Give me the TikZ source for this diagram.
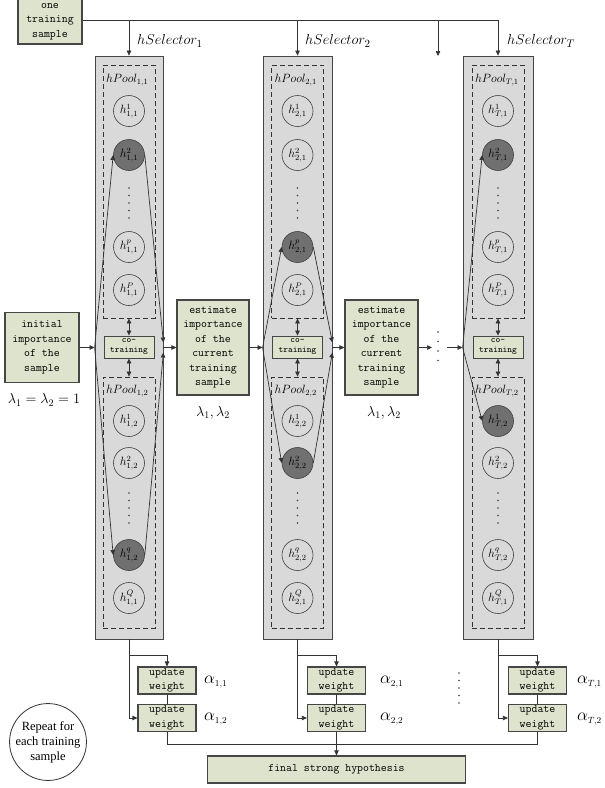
\documentclass[tikz,border=0pt]{standalone}
\usepackage{fontspec}
\newfontfamily\repfont{Liberation Serif}
\usetikzlibrary{arrows.meta}

\definecolor{boxfill}{RGB}{221,227,204}
\definecolor{colfill}{RGB}{217,217,217}
\definecolor{darkfill}{RGB}{112,112,112}
\definecolor{edge}{RGB}{70,70,70}

\tikzset{
  greenbox/.style={draw=edge, line width=1.2pt, fill=boxfill, align=center, inner sep=0pt,
    font=\ttfamily\fontsize{11.5}{14.5}\selectfont},
  colbox/.style={draw=edge, line width=0.8pt, fill=colfill, inner sep=0pt, minimum height=583pt},
  poolbox/.style={draw=black!80, dash pattern=on 5pt off 3pt, line width=0.8pt, inner sep=0pt,
    minimum width=52pt},
  hyp/.style={circle, draw=black!75, line width=0.6pt, minimum size=31pt, inner sep=0pt,
    font=\fontsize{12}{12}\selectfont},
  chosen/.style={hyp, fill=darkfill},
  conn/.style={draw=black!80, line width=0.7pt},
  arr/.style={conn, -{Triangle[length=5pt,width=4.5pt]}},
  darr/.style={conn, {Triangle[length=5pt,width=4.5pt]}-{Triangle[length=5pt,width=4.5pt]}},
  sel/.style={anchor=west, inner sep=0pt, font=\fontsize{15}{15}\selectfont},
  poollab/.style={anchor=west, inner sep=0pt, font=\fontsize{12}{12}\selectfont},
  cobox/.style={greenbox, line width=0.9pt, minimum width=50pt, minimum height=22pt,
    font=\ttfamily\fontsize{9}{10}\selectfont},
  upd/.style={greenbox, minimum width=58pt, minimum height=27pt},
  lam/.style={inner sep=0pt, font=\fontsize{14}{14}\selectfont},
  alab/.style={anchor=west, inner sep=0pt, font=\fontsize{19}{19}\selectfont},
}

\begin{document}
\begin{tikzpicture}[x=1pt, y=-1pt]
\useasboundingbox (0,0) rectangle (605,788);

% input sample and the selector feed line
\node[greenbox, minimum width=64pt, minimum height=48pt] (one) at (50,20) {};
\node[inner sep=0pt, align=center, font=\ttfamily\fontsize{11.5}{14.5}\selectfont]
  (onetxt) at (50,21.5) {one\\training\\sample};

% the three selector columns
\node[colbox, minimum width=68pt] (col1) at (129,347.5) {};
\node[colbox, minimum width=69pt] (col2) at (297.5,347.5) {};
\node[colbox, minimum width=70pt] (colT) at (498,347.5) {};

% feature pools (dashed)
\node[poolbox, minimum height=253pt] (pa1) at (129,191.5) {};
\node[poolbox, minimum height=251pt] (pb1) at (129,502.5) {};
\node[poolbox, minimum height=253pt] (pa2) at (297.5,191.5) {};
\node[poolbox, minimum height=251pt] (pb2) at (297.5,502.5) {};
\node[poolbox, minimum height=253pt] (paT) at (498,191.5) {};
\node[poolbox, minimum height=251pt] (pbT) at (498,502.5) {};

\node[poollab] (la1) at (106,80) {$hPool_{1,1}$};
\node[poollab] (lb1) at (106,391) {$hPool_{1,2}$};
\node[poollab] (la2) at (274.5,80) {$hPool_{2,1}$};
\node[poollab] (lb2) at (274.5,391) {$hPool_{2,2}$};
\node[poollab] (laT) at (475,80) {$hPool_{T,1}$};
\node[poollab] (lbT) at (475,391) {$hPool_{T,2}$};

% co-training boxes
\node[cobox] (co1) at (129,347) {co-\\training};
\node[cobox] (co2) at (297.5,347) {co-\\training};
\node[cobox] (coT) at (498,347) {co-\\training};

% weak hypotheses, column 1
\node[hyp]    (h1a1) at (129,111) {$h^{1}_{1,1}$};
\node[chosen] (h2a1) at (129,155) {$h^{2}_{1,1}$};
\node[hyp]    (hpa1) at (129,247) {$h^{p}_{1,1}$};
\node[hyp]    (hPa1) at (129,290) {$h^{P}_{1,1}$};
\node[hyp]    (h1b1) at (129,421) {$h^{1}_{1,2}$};
\node[hyp]    (h2b1) at (129,463) {$h^{2}_{1,2}$};
\node[chosen] (hqb1) at (129,555) {$h^{q}_{1,2}$};
\node[hyp]    (hQb1) at (129,598) {$h^{Q}_{1,1}$};

% weak hypotheses, column 2
\node[hyp]    (h1a2) at (297.5,111) {$h^{1}_{2,1}$};
\node[hyp]    (h2a2) at (297.5,155) {$h^{2}_{2,1}$};
\node[chosen] (hpa2) at (297.5,247) {$h^{p}_{2,1}$};
\node[hyp]    (hPa2) at (297.5,290) {$h^{P}_{2,1}$};
\node[hyp]    (h1b2) at (297.5,421) {$h^{1}_{2,2}$};
\node[chosen] (h2b2) at (297.5,463) {$h^{2}_{2,2}$};
\node[hyp]    (hqb2) at (297.5,555) {$h^{q}_{2,2}$};
\node[hyp]    (hQb2) at (297.5,598) {$h^{Q}_{2,1}$};

% weak hypotheses, column T
\node[hyp]    (h1aT) at (498,111) {$h^{1}_{T,1}$};
\node[chosen] (h2aT) at (498,155) {$h^{2}_{T,1}$};
\node[hyp]    (hpaT) at (498,247) {$h^{p}_{T,1}$};
\node[hyp]    (hPaT) at (498,290) {$h^{P}_{T,1}$};
\node[chosen] (h1bT) at (498,421) {$h^{1}_{T,2}$};
\node[hyp]    (h2bT) at (498,463) {$h^{2}_{T,2}$};
\node[hyp]    (hqbT) at (498,555) {$h^{q}_{T,2}$};
\node[hyp]    (hQbT) at (498,598) {$h^{Q}_{T,1}$};

% vertical ellipses inside the pools
\foreach \cx in {129,297.5,498}
  \foreach \k in {0,...,4} {
    \fill[black!75] (\cx,188+7.5*\k) circle (0.9pt);
    \fill[black!75] (\cx,493+7.5*\k) circle (0.9pt);
  }

% pool <-> co-training
\draw[darr] (pa1.south) -- (co1.north);
\draw[darr] (co1.south) -- (pb1.north);
\draw[darr] (pa2.south) -- (co2.north);
\draw[darr] (co2.south) -- (pb2.north);
\draw[darr] (paT.south) -- (coT.north);
\draw[darr] (coT.south) -- (pbT.north);

% selection paths through each column
\draw[arr] (col1.west) -- (h2a1.west);
\draw[arr] (col1.west) -- (hqb1.west);
\draw[arr] (h2a1.east) -- ([yshift=5pt]col1.east);
\draw[arr] (hqb1.east) -- ([yshift=-5pt]col1.east);
\draw[arr] (col2.west) -- (hpa2.west);
\draw[arr] (col2.west) -- (h2b2.west);
\draw[arr] (hpa2.east) -- ([yshift=5pt]col2.east);
\draw[arr] (h2b2.east) -- ([yshift=-5pt]col2.east);
\draw[arr] (colT.west) -- (h2aT.west);
\draw[arr] (colT.west) -- (h1bT.west);

% top feed
\coordinate (midTop) at (438,56);
\draw[conn] (one.east) -- (one.east -| colT.north);
\draw[arr] (one.east -| col1.north) -- (col1.north);
\draw[arr] (one.east -| col2.north) -- (col2.north);
\draw[arr] (one.east -| midTop) -- (midTop);
\draw[arr] (one.east -| colT.north) -- (colT.north);
\node[sel] (s1) at (137,41) {$hSelector_1$};
\node[sel] (s2) at (305,41) {$hSelector_2$};
\node[sel] (sT) at (507,41) {$hSelector_T$};

% importance chain
\node[greenbox, minimum width=74pt, minimum height=70pt] (init) at (42,347.5)
  {initial\\importance\\of the\\sample};
\node[greenbox, minimum width=72pt, minimum height=95pt] (est1) at (213,347.5)
  {estimate\\importance\\of the\\current\\training\\sample};
\node[greenbox, minimum width=73pt, minimum height=95pt] (est2) at (381.5,347.5)
  {estimate\\importance\\of the\\current\\training\\sample};
\coordinate (dotsL) at (432,347.5);
\coordinate (dotsR) at (447,347.5);
\draw[arr] (init.east) -- (col1.west);
\draw[arr] (col1.east) -- (est1.west);
\draw[arr] (est1.east) -- (col2.west);
\draw[arr] (col2.east) -- (est2.west);
\draw[arr] (est2.east) -- (dotsL);
\draw[arr] (dotsR) -- (colT.west);
\foreach \k in {0,...,3}
  \fill[black!75] (438,332+9.5*\k) circle (0.9pt);

\node[lam] (lam0) at (44,400) {$\lambda_1=\lambda_2=1$};
\node[lam] (lam1) at (213,413) {$\lambda_1,\lambda_2$};
\node[lam] (lam2) at (384,413) {$\lambda_1,\lambda_2$};

% weight updates
\node[upd] (u11) at (167,680.5) {update\\weight};
\node[upd] (u12) at (167,718) {update\\weight};
\node[upd] (u21) at (336.5,680.5) {update\\weight};
\node[upd] (u22) at (336.5,718) {update\\weight};
\node[upd] (uT1) at (537.5,680.5) {update\\weight};
\node[upd] (uT2) at (537.5,718) {update\\weight};

\draw[arr] (col1.south) -- ++(0,16) -| (u11.north);
\draw[arr] (col1.south) |- (u12.west);
\draw[conn] (u11.south) -- (u12.north);
\draw[arr] (col2.south) -- ++(0,16) -| (u21.north);
\draw[arr] (col2.south) |- (u22.west);
\draw[conn] (u21.south) -- (u22.north);
\draw[arr] (colT.south) -- ++(0,16) -| (uT1.north);
\draw[arr] (colT.south) |- (uT2.west);
\draw[conn] (uT1.south) -- (uT2.north);

\node[alab] (al11) at (204,682) {$\alpha_{\scriptscriptstyle 1,1}$};
\node[alab] (al12) at (204,719) {$\alpha_{\scriptscriptstyle 1,2}$};
\node[alab] (al21) at (380,682) {$\alpha_{\scriptscriptstyle 2,1}$};
\node[alab] (al22) at (380,719) {$\alpha_{\scriptscriptstyle 2,2}$};
\node[alab] (alT1) at (577,682) {$\alpha_{\scriptscriptstyle T,1}$};
\node[alab] (alT2) at (577,719) {$\alpha_{\scriptscriptstyle T,2}$};

\foreach \k in {0,...,4}
  \fill[black!75] (459,673+7.5*\k) circle (0.9pt);

% combination
\node[greenbox, minimum width=258pt, minimum height=27pt] (final) at (336.5,769.5)
  {final strong hypothesis};
\coordinate (fy) at (0,744);
\draw[conn] (u12.south) |- (uT2.south |- fy) -- (uT2.south);
\draw[arr] (u22.south) -- (final.north);

\node[circle, draw=black!80, line width=0.8pt, minimum size=71pt, inner sep=0pt, align=center,
  font=\repfont\fontsize{12.5}{15}\selectfont] (rep) at (48,742) {Repeat for\\each training\\sample};
\end{tikzpicture}
\end{document}
